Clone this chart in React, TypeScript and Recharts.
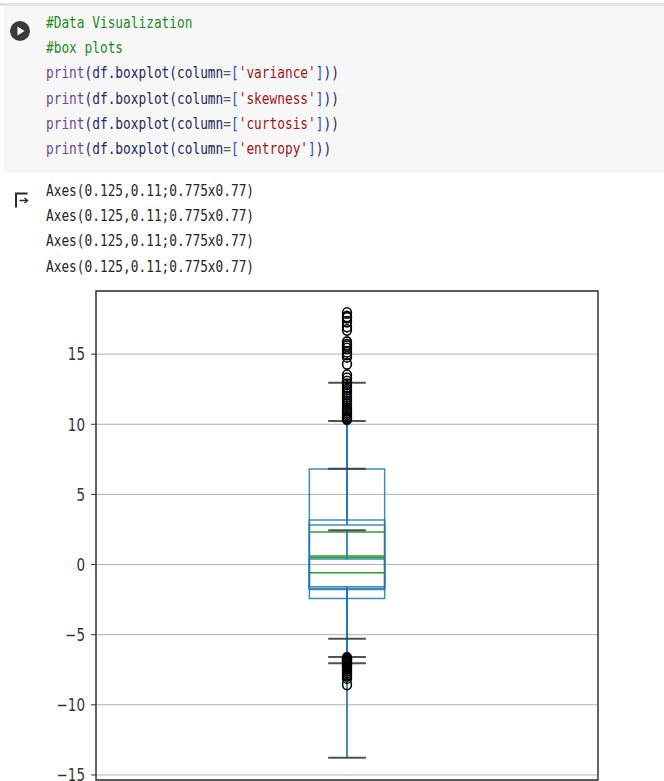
import React from "react";
import {
  ScatterChart,
  Scatter,
  XAxis,
  YAxis,
  CartesianGrid,
  ReferenceArea,
  ReferenceLine,
} from "recharts";

// four boxplots drawn on the same axes (pandas df.boxplot called 4 times)
const columns = ["variance", "skewness", "curtosis", "entropy"];
const q1 = [-1.773, -1.7082, -1.575, -2.4135];
const median = [0.4962, 2.3197, 0.6166, -0.5867];
const q3 = [2.8215, 6.8146, 3.1793, 0.3948];
const whiskerLow = [-7.0421, -13.7731, -5.2861, -6.6];
const whiskerHigh = [6.8248, 12.9516, 10.24, 2.4495];

const curtosisFliers = [
  17.93, 17.68, 17.59, 17.3, 16.96, 16.72, 15.86, 15.68, 15.56, 15.4, 15.16,
  14.97, 14.8, 14.3, 13.5, 13.28, 13.05, 12.86, 12.66, 12.47, 12.3, 12.12,
  11.95, 11.78, 11.6, 11.45, 11.29, 11.13, 10.98, 10.84, 10.7, 10.56, 10.45,
  10.36,
];
const entropyFliers = [
  -6.65, -6.69, -6.74, -6.8, -6.87, -6.94, -7.01, -7.09, -7.17, -7.25, -7.34,
  -7.45, -7.57, -7.69, -7.82, -7.95, -8.1, -8.55,
];

const yTicks = [-15, -10, -5, 0, 5, 10, 15];
const yDomain = [-15.36, 19.5];
const xDomain = [0.5, 1.5];

const BLUE = "#1f77b4";
const GREEN = "#2ca02c";
const CAP = "#333333";

const fliers = [...curtosisFliers, ...entropyFliers].map((v) => ({ x: 1, y: v }));

const C = {
  comment: "#1e8a1e",
  fn: "#6e4a8e",
  id: "#22295a",
  op: "#555555",
  br: "#2b4fc4",
  str: "#a31515",
};

const codeLines: [string, string][][] = [
  [["#Data Visualization", C.comment]],
  [["#box plots", C.comment]],
  ...columns.map((c) => [
    ["print", C.fn],
    ["(", C.id],
    ["df.boxplot", C.id],
    ["(", C.id],
    ["column", C.id],
    ["=", C.op],
    ["[", C.br],
    [`'${c}'`, C.str],
    ["]", C.br],
    ["))", C.id],
  ] as [string, string][]),
];

const outputLines = columns.map(() => "Axes(0.125,0.11;0.775x0.77)");

const monoStyle: React.CSSProperties = {
  fontFamily: "'DejaVu Sans Mono', monospace",
  fontSize: 16,
  lineHeight: "25.2px",
  whiteSpace: "pre",
  transform: "scaleX(0.8)",
  transformOrigin: "0 0",
};

const YTick = ({ x, y, payload }: any) => {
  const v = payload.value;
  const label = v < 0 ? `\u2212${Math.abs(v)}` : `${v}`;
  return (
    <g transform={`translate(${x},${y}) scale(1,1.3)`}>
      <text
        x={0}
        y={0}
        dy="0.36em"
        textAnchor="end"
        fontSize={13.5}
        fill="#333"
        fontFamily="'DejaVu Sans', sans-serif"
      >
        {label}
      </text>
    </g>
  );
};

const Flier = ({ cx, cy }: any) => (
  <ellipse cx={cx} cy={cy} rx={4.4} ry={5.2} fill="none" stroke="#000" strokeWidth={1.6} />
);

export default function App() {
  return (
    <div
      style={{
        position: "absolute",
        top: 0,
        left: 0,
        width: 664,
        height: 781,
        overflow: "hidden",
        background: "#fff",
      }}
    >
      {/* code cell */}
      <div style={{ position: "absolute", top: 3, left: 0, width: 664, height: 3, background: "#e2e2e2" }} />
      <div style={{ position: "absolute", top: 6, left: 4, width: 660, height: 167, background: "#f7f7f7" }} />
      <svg style={{ position: "absolute", top: 0, left: 0 }} width={60} height={220}>
        <circle cx={20} cy={31} r={10} fill="#3a3a3a" />
        <path d="M17.5 26.5 L24.5 31 L17.5 35.5 Z" fill="#fff" />
        <path d="M16 207.5 L16 193.5 L27.5 193.5" fill="none" stroke="#2a2a2a" strokeWidth={2} />
        <path d="M19.5 200.5 L27 200.5" stroke="#2a2a2a" strokeWidth={1.5} />
        <path d="M24.5 198 L27.5 200.5 L24.5 203" fill="none" stroke="#2a2a2a" strokeWidth={1.5} />
      </svg>
      <div style={{ position: "absolute", top: 10, left: 46, ...monoStyle }}>
        {codeLines.map((line, i) => (
          <div key={i}>
            {line.map(([t, col], j) => (
              <span key={j} style={{ color: col }}>
                {t}
              </span>
            ))}
          </div>
        ))}
      </div>
      <div style={{ position: "absolute", top: 178, left: 46, color: "#262626", ...monoStyle }}>
        {outputLines.map((t, i) => (
          <div key={i}>{t}</div>
        ))}
      </div>

      {/* boxplot */}
      <div style={{ position: "absolute", top: 285, left: 0 }}>
        <ScatterChart width={664} height={540} margin={{ top: 6, right: 66, bottom: 0, left: 0 }}>
          <CartesianGrid stroke="#b0b0b0" strokeWidth={1} />
          <XAxis
            type="number"
            dataKey="x"
            domain={xDomain}
            ticks={[1]}
            allowDataOverflow
            axisLine={false}
            tick={false}
            tickLine={false}
            height={45}
          />
          <YAxis
            type="number"
            dataKey="y"
            domain={yDomain}
            ticks={yTicks}
            allowDataOverflow
            width={96}
            axisLine={false}
            tickLine={{ stroke: "#333" }}
            tickSize={5}
            tickMargin={6}
            tick={<YTick />}
          />
          {/* frame */}
          <ReferenceArea
            x1={xDomain[0]}
            x2={xDomain[1]}
            y1={yDomain[0]}
            y2={yDomain[1]}
            fill="none"
            stroke="#333"
            strokeWidth={1.4}
            ifOverflow="visible"
          />
          {columns.map((c, i) => (
            <ReferenceLine
              key={`wl-${c}`}
              segment={[{ x: 1, y: q1[i] }, { x: 1, y: whiskerLow[i] }]}
              stroke={BLUE}
              strokeWidth={1.7}
            />
          ))}
          {columns.map((c, i) => (
            <ReferenceLine
              key={`wh-${c}`}
              segment={[{ x: 1, y: q3[i] }, { x: 1, y: whiskerHigh[i] }]}
              stroke={BLUE}
              strokeWidth={1.7}
            />
          ))}
          {columns.map((c, i) => (
            <ReferenceArea
              key={`box-${c}`}
              x1={0.925}
              x2={1.075}
              y1={q1[i]}
              y2={q3[i]}
              fill="none"
              stroke={BLUE}
              strokeWidth={1.5}
              strokeOpacity={0.85}
            />
          ))}
          {columns.map((c, i) => (
            <ReferenceLine
              key={`med-${c}`}
              segment={[{ x: 0.925, y: median[i] }, { x: 1.075, y: median[i] }]}
              stroke={GREEN}
              strokeWidth={1.5}
            />
          ))}
          {columns.flatMap((c, i) =>
            [whiskerLow[i], whiskerHigh[i]].map((w, k) => (
              <ReferenceLine
                key={`cap-${c}-${k}`}
                segment={[{ x: 0.9625, y: w }, { x: 1.0375, y: w }]}
                stroke={CAP}
                strokeWidth={2}
                strokeOpacity={0.85}
              />
            ))
          )}
          <Scatter data={fliers} shape={<Flier />} isAnimationActive={false} />
        </ScatterChart>
      </div>
    </div>
  );
}
